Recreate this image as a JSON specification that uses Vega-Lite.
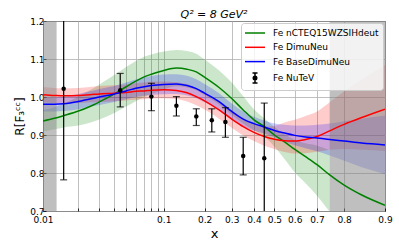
{
  "$schema": "https://vega.github.io/schema/vega-lite/v6.json",
  "width": 342,
  "height": 190,
  "autosize": {"type": "none"},
  "padding": {"left": 43, "top": 21, "right": 14, "bottom": 35},
  "background": "white",
  "config": {
    "font": "DejaVu Sans",
    "view": {"stroke": "black", "strokeWidth": 1},
    "axis": {
      "labelFont": "DejaVu Sans", "labelFontSize": 9, "labelColor": "black",
      "titleFont": "DejaVu Sans", "titleFontWeight": "normal", "titleColor": "black",
      "gridColor": "#b0b0b0", "gridWidth": 0.8, "gridOpacity": 1,
      "domain": false, "tickColor": "black", "tickWidth": 0.8, "tickSize": -3,
      "labelOverlap": false, "labelFlush": false
    },
    "axisY": {"labelOverlap": false},
    "axisLeft": {"labelOverlap": false}
  },
  "title": {"text": "Q² = 8 GeV²", "fontSize": 11, "font": "DejaVu Sans", "fontStyle": "italic", "fontWeight": "normal", "anchor": "middle", "offset": -3, "color": "black"},
  "datasets": {
    "curves": [
      {"x":0.01,"series":"Fe nCTEQ15WZSIHdeut","y":0.937,"lo":0.909,"hi":0.965},
      {"x":0.0125,"series":"Fe nCTEQ15WZSIHdeut","y":0.944,"lo":0.915,"hi":0.973},
      {"x":0.015,"series":"Fe nCTEQ15WZSIHdeut","y":0.951,"lo":0.920,"hi":0.982},
      {"x":0.02,"series":"Fe nCTEQ15WZSIHdeut","y":0.963,"lo":0.925,"hi":1.001},
      {"x":0.025,"series":"Fe nCTEQ15WZSIHdeut","y":0.975,"lo":0.932,"hi":1.018},
      {"x":0.03,"series":"Fe nCTEQ15WZSIHdeut","y":0.987,"lo":0.941,"hi":1.033},
      {"x":0.04,"series":"Fe nCTEQ15WZSIHdeut","y":1.008,"lo":0.958,"hi":1.058},
      {"x":0.05,"series":"Fe nCTEQ15WZSIHdeut","y":1.027,"lo":0.975,"hi":1.079},
      {"x":0.06,"series":"Fe nCTEQ15WZSIHdeut","y":1.042,"lo":0.989,"hi":1.095},
      {"x":0.07,"series":"Fe nCTEQ15WZSIHdeut","y":1.053,"lo":1.000,"hi":1.106},
      {"x":0.08,"series":"Fe nCTEQ15WZSIHdeut","y":1.060,"lo":1.008,"hi":1.112},
      {"x":0.1,"series":"Fe nCTEQ15WZSIHdeut","y":1.070,"lo":1.020,"hi":1.120},
      {"x":0.125,"series":"Fe nCTEQ15WZSIHdeut","y":1.076,"lo":1.028,"hi":1.124},
      {"x":0.15,"series":"Fe nCTEQ15WZSIHdeut","y":1.073,"lo":1.025,"hi":1.121},
      {"x":0.175,"series":"Fe nCTEQ15WZSIHdeut","y":1.066,"lo":1.018,"hi":1.114},
      {"x":0.2,"series":"Fe nCTEQ15WZSIHdeut","y":1.052,"lo":1.005,"hi":1.099},
      {"x":0.25,"series":"Fe nCTEQ15WZSIHdeut","y":1.025,"lo":0.980,"hi":1.070},
      {"x":0.3,"series":"Fe nCTEQ15WZSIHdeut","y":0.996,"lo":0.954,"hi":1.038},
      {"x":0.35,"series":"Fe nCTEQ15WZSIHdeut","y":0.966,"lo":0.930,"hi":1.002},
      {"x":0.4,"series":"Fe nCTEQ15WZSIHdeut","y":0.940,"lo":0.912,"hi":0.968},
      {"x":0.45,"series":"Fe nCTEQ15WZSIHdeut","y":0.922,"lo":0.897,"hi":0.944},
      {"x":0.5,"series":"Fe nCTEQ15WZSIHdeut","y":0.900,"lo":0.870,"hi":0.921},
      {"x":0.55,"series":"Fe nCTEQ15WZSIHdeut","y":0.882,"lo":0.837,"hi":0.902},
      {"x":0.6,"series":"Fe nCTEQ15WZSIHdeut","y":0.862,"lo":0.802,"hi":0.887},
      {"x":0.65,"series":"Fe nCTEQ15WZSIHdeut","y":0.843,"lo":0.773,"hi":0.878},
      {"x":0.7,"series":"Fe nCTEQ15WZSIHdeut","y":0.822,"lo":0.740,"hi":0.872},
      {"x":0.75,"series":"Fe nCTEQ15WZSIHdeut","y":0.795,"lo":0.698,"hi":0.860},
      {"x":0.8,"series":"Fe nCTEQ15WZSIHdeut","y":0.768,"lo":null,"hi":null},
      {"x":0.85,"series":"Fe nCTEQ15WZSIHdeut","y":0.742,"lo":null,"hi":null},
      {"x":0.9,"series":"Fe nCTEQ15WZSIHdeut","y":0.715,"lo":null,"hi":null},
      {"x":0.01,"series":"Fe DimuNeu","y":1.006,"lo":0.986,"hi":1.026},
      {"x":0.0125,"series":"Fe DimuNeu","y":1.004,"lo":0.984,"hi":1.024},
      {"x":0.015,"series":"Fe DimuNeu","y":1.003,"lo":0.983,"hi":1.023},
      {"x":0.02,"series":"Fe DimuNeu","y":1.004,"lo":0.984,"hi":1.024},
      {"x":0.025,"series":"Fe DimuNeu","y":1.006,"lo":0.986,"hi":1.026},
      {"x":0.03,"series":"Fe DimuNeu","y":1.008,"lo":0.987,"hi":1.029},
      {"x":0.04,"series":"Fe DimuNeu","y":1.010,"lo":0.989,"hi":1.031},
      {"x":0.05,"series":"Fe DimuNeu","y":1.012,"lo":0.991,"hi":1.033},
      {"x":0.06,"series":"Fe DimuNeu","y":1.015,"lo":0.993,"hi":1.037},
      {"x":0.07,"series":"Fe DimuNeu","y":1.016,"lo":0.994,"hi":1.038},
      {"x":0.08,"series":"Fe DimuNeu","y":1.018,"lo":0.996,"hi":1.040},
      {"x":0.1,"series":"Fe DimuNeu","y":1.019,"lo":0.997,"hi":1.041},
      {"x":0.125,"series":"Fe DimuNeu","y":1.017,"lo":0.995,"hi":1.039},
      {"x":0.15,"series":"Fe DimuNeu","y":1.011,"lo":0.988,"hi":1.034},
      {"x":0.175,"series":"Fe DimuNeu","y":1.001,"lo":0.978,"hi":1.024},
      {"x":0.2,"series":"Fe DimuNeu","y":0.990,"lo":0.967,"hi":1.013},
      {"x":0.25,"series":"Fe DimuNeu","y":0.966,"lo":0.943,"hi":0.989},
      {"x":0.3,"series":"Fe DimuNeu","y":0.942,"lo":0.919,"hi":0.965},
      {"x":0.35,"series":"Fe DimuNeu","y":0.922,"lo":0.899,"hi":0.945},
      {"x":0.4,"series":"Fe DimuNeu","y":0.907,"lo":0.884,"hi":0.930},
      {"x":0.45,"series":"Fe DimuNeu","y":0.896,"lo":0.872,"hi":0.922},
      {"x":0.5,"series":"Fe DimuNeu","y":0.889,"lo":0.863,"hi":0.924},
      {"x":0.55,"series":"Fe DimuNeu","y":0.885,"lo":0.855,"hi":0.933},
      {"x":0.6,"series":"Fe DimuNeu","y":0.884,"lo":0.851,"hi":0.940},
      {"x":0.65,"series":"Fe DimuNeu","y":0.888,"lo":0.852,"hi":0.950},
      {"x":0.7,"series":"Fe DimuNeu","y":0.896,"lo":0.856,"hi":0.962},
      {"x":0.75,"series":"Fe DimuNeu","y":0.911,"lo":0.861,"hi":0.986},
      {"x":0.8,"series":"Fe DimuNeu","y":0.928,"lo":0.863,"hi":1.015},
      {"x":0.85,"series":"Fe DimuNeu","y":0.946,"lo":0.861,"hi":1.046},
      {"x":0.9,"series":"Fe DimuNeu","y":0.968,"lo":0.858,"hi":1.084},
      {"x":0.01,"series":"Fe BaseDimuNeu","y":0.981,"lo":0.962,"hi":1.000},
      {"x":0.0125,"series":"Fe BaseDimuNeu","y":0.981,"lo":0.962,"hi":1.000},
      {"x":0.015,"series":"Fe BaseDimuNeu","y":0.982,"lo":0.963,"hi":1.001},
      {"x":0.02,"series":"Fe BaseDimuNeu","y":0.988,"lo":0.968,"hi":1.008},
      {"x":0.025,"series":"Fe BaseDimuNeu","y":0.995,"lo":0.975,"hi":1.015},
      {"x":0.03,"series":"Fe BaseDimuNeu","y":1.000,"lo":0.979,"hi":1.021},
      {"x":0.04,"series":"Fe BaseDimuNeu","y":1.008,"lo":0.987,"hi":1.029},
      {"x":0.05,"series":"Fe BaseDimuNeu","y":1.016,"lo":0.994,"hi":1.038},
      {"x":0.06,"series":"Fe BaseDimuNeu","y":1.023,"lo":1.000,"hi":1.046},
      {"x":0.07,"series":"Fe BaseDimuNeu","y":1.027,"lo":1.003,"hi":1.051},
      {"x":0.08,"series":"Fe BaseDimuNeu","y":1.030,"lo":1.005,"hi":1.055},
      {"x":0.1,"series":"Fe BaseDimuNeu","y":1.033,"lo":1.007,"hi":1.059},
      {"x":0.125,"series":"Fe BaseDimuNeu","y":1.034,"lo":1.008,"hi":1.060},
      {"x":0.15,"series":"Fe BaseDimuNeu","y":1.030,"lo":1.004,"hi":1.056},
      {"x":0.175,"series":"Fe BaseDimuNeu","y":1.022,"lo":0.997,"hi":1.047},
      {"x":0.2,"series":"Fe BaseDimuNeu","y":1.010,"lo":0.986,"hi":1.034},
      {"x":0.25,"series":"Fe BaseDimuNeu","y":0.988,"lo":0.966,"hi":1.010},
      {"x":0.3,"series":"Fe BaseDimuNeu","y":0.962,"lo":0.941,"hi":0.983},
      {"x":0.35,"series":"Fe BaseDimuNeu","y":0.942,"lo":0.922,"hi":0.962},
      {"x":0.4,"series":"Fe BaseDimuNeu","y":0.930,"lo":0.912,"hi":0.948},
      {"x":0.45,"series":"Fe BaseDimuNeu","y":0.921,"lo":0.904,"hi":0.938},
      {"x":0.5,"series":"Fe BaseDimuNeu","y":0.912,"lo":0.894,"hi":0.930},
      {"x":0.55,"series":"Fe BaseDimuNeu","y":0.905,"lo":0.883,"hi":0.927},
      {"x":0.6,"series":"Fe BaseDimuNeu","y":0.899,"lo":0.873,"hi":0.925},
      {"x":0.65,"series":"Fe BaseDimuNeu","y":0.895,"lo":0.865,"hi":0.925},
      {"x":0.7,"series":"Fe BaseDimuNeu","y":0.892,"lo":0.857,"hi":0.927},
      {"x":0.75,"series":"Fe BaseDimuNeu","y":0.888,"lo":0.846,"hi":0.930},
      {"x":0.8,"series":"Fe BaseDimuNeu","y":0.884,"lo":0.832,"hi":0.936},
      {"x":0.85,"series":"Fe BaseDimuNeu","y":0.879,"lo":0.815,"hi":0.943},
      {"x":0.9,"series":"Fe BaseDimuNeu","y":0.874,"lo":0.797,"hi":0.951}
    ],
    "nutev": [
      {"x":0.015,"series":"Fe NuTeV","y":1.022,"lo":0.782,"hi":1.262},
      {"x":0.045,"series":"Fe NuTeV","y":1.018,"lo":0.974,"hi":1.062},
      {"x":0.08,"series":"Fe NuTeV","y":1.001,"lo":0.964,"hi":1.036},
      {"x":0.125,"series":"Fe NuTeV","y":0.977,"lo":0.950,"hi":1.001},
      {"x":0.175,"series":"Fe NuTeV","y":0.949,"lo":0.925,"hi":0.969},
      {"x":0.225,"series":"Fe NuTeV","y":0.939,"lo":0.908,"hi":0.969},
      {"x":0.275,"series":"Fe NuTeV","y":0.934,"lo":0.894,"hi":0.972},
      {"x":0.35,"series":"Fe NuTeV","y":0.845,"lo":0.795,"hi":0.894},
      {"x":0.45,"series":"Fe NuTeV","y":0.839,"lo":0.694,"hi":0.984}
    ],
    "shade": [
      {"x0":0.01,"x1":0.0131},
      {"x0":0.75,"x1":0.9}
    ]
  },
  "encoding": {
    "x": {
      "field": "x", "type": "quantitative",
      "scale": {
        "type": "linear", "nice": false, "zero": false,
        "domain": [0.01,0.0125,0.015,0.0175,0.02,0.025,0.03,0.035,0.04,0.05,0.06,0.07,0.08,0.09,0.1,0.125,0.15,0.175,0.2,0.25,0.3,0.35,0.4,0.45,0.5,0.55,0.6,0.65,0.7,0.75,0.8,0.85,0.875,0.9],
        "range": [0,11.36,20.67,28.56,35.41,46.91,56.34,64.37,71.35,83.11,92.83,101.13,108.39,114.88,120.74,133.39,144.03,153.29,161.57,176.05,188.71,200.20,210.95,221.26,231.37,241.47,251.78,262.54,274.03,286.68,301.17,318.71,329.35,342]
      },
      "axis": {
        "title": "x", "titleFontSize": 13, "titlePadding": 3,
        "values": [0.01,0.02,0.03,0.04,0.05,0.06,0.07,0.08,0.09,0.1,0.2,0.3,0.4,0.5,0.6,0.7,0.8,0.9],
        "labelExpr": "(datum.value > 0.015 && datum.value < 0.095) ? '' : format(datum.value, '~g')",
        "labelPadding": 7, "labelOverlap": false
      }
    }
  },
  "layer": [
    {
      "data": {"name": "curves"},
      "mark": {"type": "area", "opacity": 0.2, "interpolate": "monotone", "clip": true},
      "encoding": {
        "y": {
          "field": "lo", "type": "quantitative",
          "scale": {"domain": [0.7, 1.2], "nice": false, "zero": false},
          "axis": {
            "title": "R[F₃ᶜᶜ]", "titleFontSize": 12, "titlePadding": 3,
            "values": [0.7,0.8,0.9,1.0,1.1,1.2], "format": ".1f", "labelPadding": 2,
            "labelOverlap": false, "labelFlush": false
          }
        },
        "y2": {"field": "hi"},
        "color": {"field": "series", "type": "nominal"}
      }
    },
    {
      "data": {"name": "shade"},
      "mark": {"type": "rect", "color": "#808080", "opacity": 0.5},
      "encoding": {
        "x": {"field": "x0", "type": "quantitative"},
        "x2": {"field": "x1"}
      }
    },
    {
      "data": {"name": "curves"},
      "mark": {"type": "line", "strokeWidth": 1.5, "interpolate": "monotone", "clip": true},
      "encoding": {
        "y": {
          "field": "y", "type": "quantitative",
          "axis": {
            "title": "R[F₃ᶜᶜ]", "titleFontSize": 12, "titlePadding": 3,
            "values": [0.7,0.8,0.9,1.0,1.1,1.2], "format": ".1f", "labelPadding": 2,
            "labelOverlap": false, "labelFlush": false
          }
        },
        "color": {
          "field": "series", "type": "nominal",
          "scale": {
            "domain": ["Fe nCTEQ15WZSIHdeut","Fe DimuNeu","Fe BaseDimuNeu","Fe NuTeV"],
            "range": ["#008000","#ff0000","#0000ff","#000000"]
          },
          "legend": {
            "title": null, "orient": "top-right", "offset": 2,
            "labelFont": "DejaVu Sans", "labelFontSize": 9, "labelColor": "black",
            "labelOffset": 16, "padding": 4, "rowPadding": 3.3,
            "fillColor": "rgba(255,255,255,0.8)", "strokeColor": "#cccccc", "cornerRadius": 3,
            "symbolSize": 100, "symbolStrokeWidth": 1.5,
            "encode": {
              "symbols": {
                "update": {
                  "shape": {"signal": "datum.value === 'Fe NuTeV' ? 'M0,-1L0,1M-0.5,-1L0.5,-1M-0.5,1L0.5,1M-0.35,0A0.35,0.35,0,1,0,0.35,0A0.35,0.35,0,1,0,-0.35,0Z' : 'M-2,0L2,0'"},
                  "xc": {"value": 10},
                  "fill": {"signal": "datum.value === 'Fe NuTeV' ? 'black' : 'transparent'"},
                  "stroke": {"signal": "scale('color', datum.value)"},
                  "opacity": {"value": 1},
                  "strokeWidth": {"value": 1.5}
                }
              }
            }
          }
        }
      }
    },
    {
      "data": {"name": "nutev"},
      "mark": {"type": "rule", "strokeWidth": 1.2, "clip": true},
      "encoding": {
        "y": {
          "field": "lo", "type": "quantitative",
          "axis": {
            "title": "R[F₃ᶜᶜ]", "titleFontSize": 12, "titlePadding": 3,
            "values": [0.7,0.8,0.9,1.0,1.1,1.2], "format": ".1f", "labelPadding": 2,
            "labelOverlap": false, "labelFlush": false
          }
        },
        "y2": {"field": "hi"},
        "color": {"field": "series", "type": "nominal"}
      }
    },
    {
      "data": {"name": "nutev"},
      "mark": {"type": "tick", "orient": "horizontal", "size": 7, "thickness": 1.2, "clip": true},
      "encoding": {
        "y": {
          "field": "lo", "type": "quantitative",
          "axis": {
            "title": "R[F₃ᶜᶜ]", "titleFontSize": 12, "titlePadding": 3,
            "values": [0.7,0.8,0.9,1.0,1.1,1.2], "format": ".1f", "labelPadding": 2,
            "labelOverlap": false, "labelFlush": false
          }
        },
        "color": {"field": "series", "type": "nominal"}
      }
    },
    {
      "data": {"name": "nutev"},
      "mark": {"type": "tick", "orient": "horizontal", "size": 7, "thickness": 1.2, "clip": true},
      "encoding": {
        "y": {
          "field": "hi", "type": "quantitative",
          "axis": {
            "title": "R[F₃ᶜᶜ]", "titleFontSize": 12, "titlePadding": 3,
            "values": [0.7,0.8,0.9,1.0,1.1,1.2], "format": ".1f", "labelPadding": 2,
            "labelOverlap": false, "labelFlush": false
          }
        },
        "color": {"field": "series", "type": "nominal"}
      }
    },
    {
      "data": {"name": "nutev"},
      "mark": {"type": "point", "filled": true, "size": 20, "opacity": 1, "clip": true},
      "encoding": {
        "y": {
          "field": "y", "type": "quantitative",
          "axis": {
            "title": "R[F₃ᶜᶜ]", "titleFontSize": 12, "titlePadding": 3,
            "values": [0.7,0.8,0.9,1.0,1.1,1.2], "format": ".1f", "labelPadding": 2,
            "labelOverlap": false, "labelFlush": false
          }
        },
        "color": {"field": "series", "type": "nominal"}
      }
    }
  ]
}
